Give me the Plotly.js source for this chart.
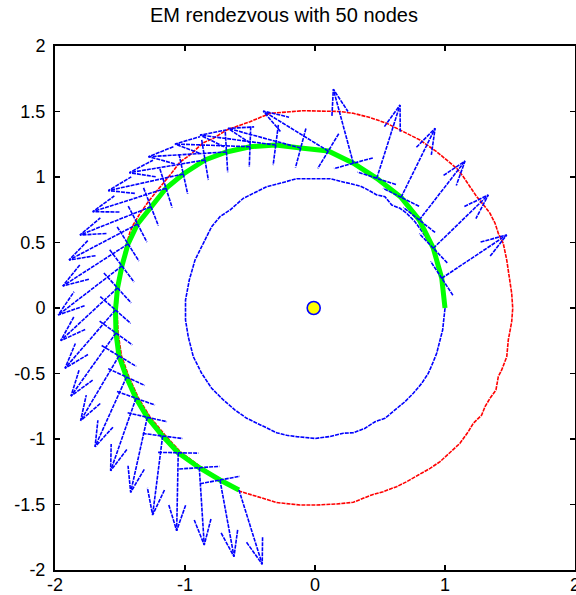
<!DOCTYPE html>
<html><head><meta charset="utf-8">
<script src="https://cdn.plot.ly/plotly-3.0.1.min.js"></script>
<style>html,body{margin:0;padding:0;background:#fff}</style>
</head><body><div id="chart" style="width:576px;height:595px"></div>
<script>
// Node positions (data units) along the green arc
const nodeX = [0.975,0.910,0.802,0.662,0.475,0.295,0.102,-0.110,-0.302,-0.500,-0.681,-0.846,-1.013,-1.146,-1.262,-1.365,-1.438,-1.485,-1.519,-1.535,-1.531,-1.508,-1.450,-1.377,-1.290,-1.172,-1.052,-0.890,-0.731,-0.585];
const nodeY = [0.227,0.456,0.672,0.845,0.990,1.105,1.198,1.221,1.244,1.231,1.191,1.130,1.023,0.914,0.773,0.641,0.489,0.321,0.153,-0.015,-0.191,-0.366,-0.527,-0.689,-0.834,-0.977,-1.105,-1.219,-1.313,-1.389];
// Arrow vectors at each node
const arrowU = [0.500,0.423,0.352,0.262,0.179,-0.154,-0.500,-0.559,-0.582,-0.577,-0.600,-0.582,-0.577,-0.564,-0.546,-0.527,-0.502,-0.490,-0.437,-0.388,-0.346,-0.295,-0.242,-0.195,-0.128,-0.077,-0.012,0.038,0.108,0.179];
const arrowV = [0.331,0.407,0.450,0.527,0.560,0.565,0.305,0.150,0.076,0.021,-0.036,-0.097,-0.127,-0.179,-0.216,-0.275,-0.321,-0.374,-0.402,-0.445,-0.481,-0.494,-0.532,-0.553,-0.573,-0.603,-0.595,-0.590,-0.585,-0.567];
// Green arc
const greenX = [1.000,0.975,0.910,0.802,0.662,0.475,0.295,0.102,-0.110,-0.302,-0.500,-0.681,-0.846,-1.013,-1.146,-1.262,-1.365,-1.438,-1.485,-1.519,-1.535,-1.531,-1.508,-1.450,-1.377,-1.290,-1.172,-1.052,-0.890,-0.731,-0.585];
const greenY = [0.000,0.227,0.456,0.672,0.845,0.990,1.105,1.198,1.221,1.244,1.231,1.191,1.130,1.023,0.914,0.773,0.641,0.489,0.321,0.153,-0.015,-0.191,-0.366,-0.527,-0.689,-0.834,-0.977,-1.105,-1.219,-1.313,-1.389];
// Red outer loop
const redX = [-0.590,-0.448,-0.295,-0.115,0.013,0.167,0.295,0.436,0.525,0.628,0.705,0.795,0.885,0.962,1.038,1.115,1.179,1.218,1.282,1.308,1.346,1.392,1.410,1.436,1.475,1.487,1.513,1.521,1.513,1.500,1.475,1.448,1.410,1.385,1.346,1.308,1.244,1.192,1.141,1.090,1.025,0.936,0.808,0.679,0.552,0.423,0.295,0.192,0.038,-0.090,-0.192,-0.346,-0.500,-0.577,-0.679,-0.782,-0.862,-0.962,-1.038,-1.115,-1.169,-1.231,-1.282,-1.346,-1.398,-1.423,-1.462,-1.492,-1.515,-1.523,-1.515,-1.488,-1.431,-1.358,-1.269,-1.154,-1.035,-0.877,-0.723,-0.590];
const redY = [-1.395,-1.440,-1.485,-1.504,-1.504,-1.496,-1.483,-1.427,-1.402,-1.364,-1.326,-1.275,-1.224,-1.173,-1.105,-1.033,-0.944,-0.880,-0.817,-0.753,-0.689,-0.626,-0.524,-0.473,-0.372,-0.244,-0.105,-0.002,0.112,0.214,0.366,0.494,0.570,0.647,0.723,0.773,0.850,0.926,1.002,1.066,1.117,1.193,1.282,1.346,1.410,1.454,1.486,1.500,1.506,1.506,1.498,1.486,1.422,1.397,1.359,1.295,1.260,1.168,1.115,1.015,0.954,0.876,0.811,0.723,0.634,0.580,0.443,0.290,0.137,-0.015,-0.191,-0.366,-0.527,-0.687,-0.832,-0.969,-1.099,-1.214,-1.309,-1.395];
// Blue inner loop
const innerX = [1.000,0.982,0.962,0.936,0.905,0.872,0.821,0.756,0.692,0.602,0.538,0.462,0.385,0.295,0.218,0.115,0.000,-0.141,-0.218,-0.295,-0.398,-0.525,-0.615,-0.705,-0.795,-0.872,-0.936,-0.975,-0.996,-0.996,-0.967,-0.923,-0.859,-0.795,-0.731,-0.654,-0.552,-0.448,-0.372,-0.269,-0.141,0.115,0.218,0.346,0.385,0.475,0.538,0.590,0.654,0.705,0.769,0.833,0.898,0.948,0.982,1.000];
const innerY = [-0.002,-0.168,-0.244,-0.346,-0.422,-0.498,-0.575,-0.651,-0.715,-0.792,-0.842,-0.868,-0.918,-0.952,-0.956,-0.981,-0.996,-0.982,-0.972,-0.952,-0.901,-0.842,-0.779,-0.702,-0.613,-0.498,-0.372,-0.219,-0.092,0.061,0.214,0.366,0.494,0.621,0.697,0.748,0.837,0.888,0.926,0.952,0.987,0.987,0.964,0.931,0.914,0.863,0.850,0.786,0.761,0.723,0.659,0.570,0.468,0.353,0.214,-0.002];
// Center point
const centerX = [-0.01];
const centerY = [0.0];
// Ticks
const xTickVals = [-2,-1,0,1,2];
const xTickText = ['-2','-1','0','1','2'];
const yTickVals = [-2,-1.5,-1,-0.5,0,0.5,1,1.5,2];
const yTickText = ['-2','-1.5','-1','-0.5','0','0.5','1','1.5','2'];

// Quiver-style arrows (MATLAB head geometry)
const alpha = 0.33, beta = 0.33;
const ax = [], ay = [], tx = [], ty = [];
const half = 0.155;
for (let i = 0; i < nodeX.length; i++) {
  const x = nodeX[i], y = nodeY[i], u = arrowU[i], v = arrowV[i];
  ax.push(x, x + u, null);
  ax.push(x + u - alpha * (u + beta * v), x + u, x + u - alpha * (u - beta * v), null);
  ay.push(y, y + v, null);
  ay.push(y + v - alpha * (v - beta * u), y + v, y + v - alpha * (v + beta * u), null);
  if (i < nodeX.length - 1) {
    const L = Math.hypot(u, v);
    const px = -v / L * half, py = u / L * half;
    tx.push(x - px, x + px, null);
    ty.push(y - py, y + py, null);
  }
}

const font = 'Liberation Sans, Arial, Helvetica, sans-serif';
const dash = '4px,1px';
const lw = 1.6;
const traces = [
  {x: redX, y: redY, mode: 'lines', line: {color: '#ff0000', width: lw, dash: dash}, hoverinfo: 'skip'},
  {x: innerX, y: innerY, mode: 'lines', line: {color: '#0000ff', width: lw, dash: dash}, hoverinfo: 'skip'},
  {x: greenX, y: greenY, mode: 'lines', line: {color: '#00ff00', width: 5}, hoverinfo: 'skip'},
  {x: ax, y: ay, mode: 'lines', line: {color: '#0000ff', width: lw, dash: dash}, hoverinfo: 'skip'},
  {x: tx, y: ty, mode: 'lines', line: {color: '#0000ff', width: lw, dash: dash}, hoverinfo: 'skip'},
  {x: centerX, y: centerY, mode: 'markers', marker: {symbol: 'circle', size: 13, color: '#ffff00', line: {color: '#0000ff', width: 1.6}}, hoverinfo: 'skip'}
];

const axisBase = {
  range: [-2, 2], showgrid: false, zeroline: false, showline: true, linecolor: '#000', linewidth: 2,
  mirror: 'allticks', ticks: 'inside', ticklen: 5, tickwidth: 1.5, tickcolor: '#000',
  tickfont: {family: font, size: 18, color: '#000'}, tickmode: 'array', fixedrange: true,
  ticklabeloverflow: 'allow'
};
const layout = {
  width: 576, height: 595,
  margin: {l: 55, r: 1, t: 46, b: 25, pad: 0},
  paper_bgcolor: '#fff', plot_bgcolor: '#fff',
  showlegend: false,
  title: {text: 'EM rendezvous with 50 nodes', font: {family: font, size: 20, color: '#000'},
          x: 0.493, xanchor: 'center', xref: 'container', y: 0.975, yanchor: 'middle', yref: 'container'},
  xaxis: Object.assign({}, axisBase, {tickvals: xTickVals, ticktext: xTickText, ticklabelstandoff: -3}),
  yaxis: Object.assign({}, axisBase, {tickvals: yTickVals, ticktext: yTickText, ticklabelstandoff: 4})
};
Plotly.newPlot('chart', traces, layout, {displayModeBar: false, staticPlot: true});
</script></body></html>
